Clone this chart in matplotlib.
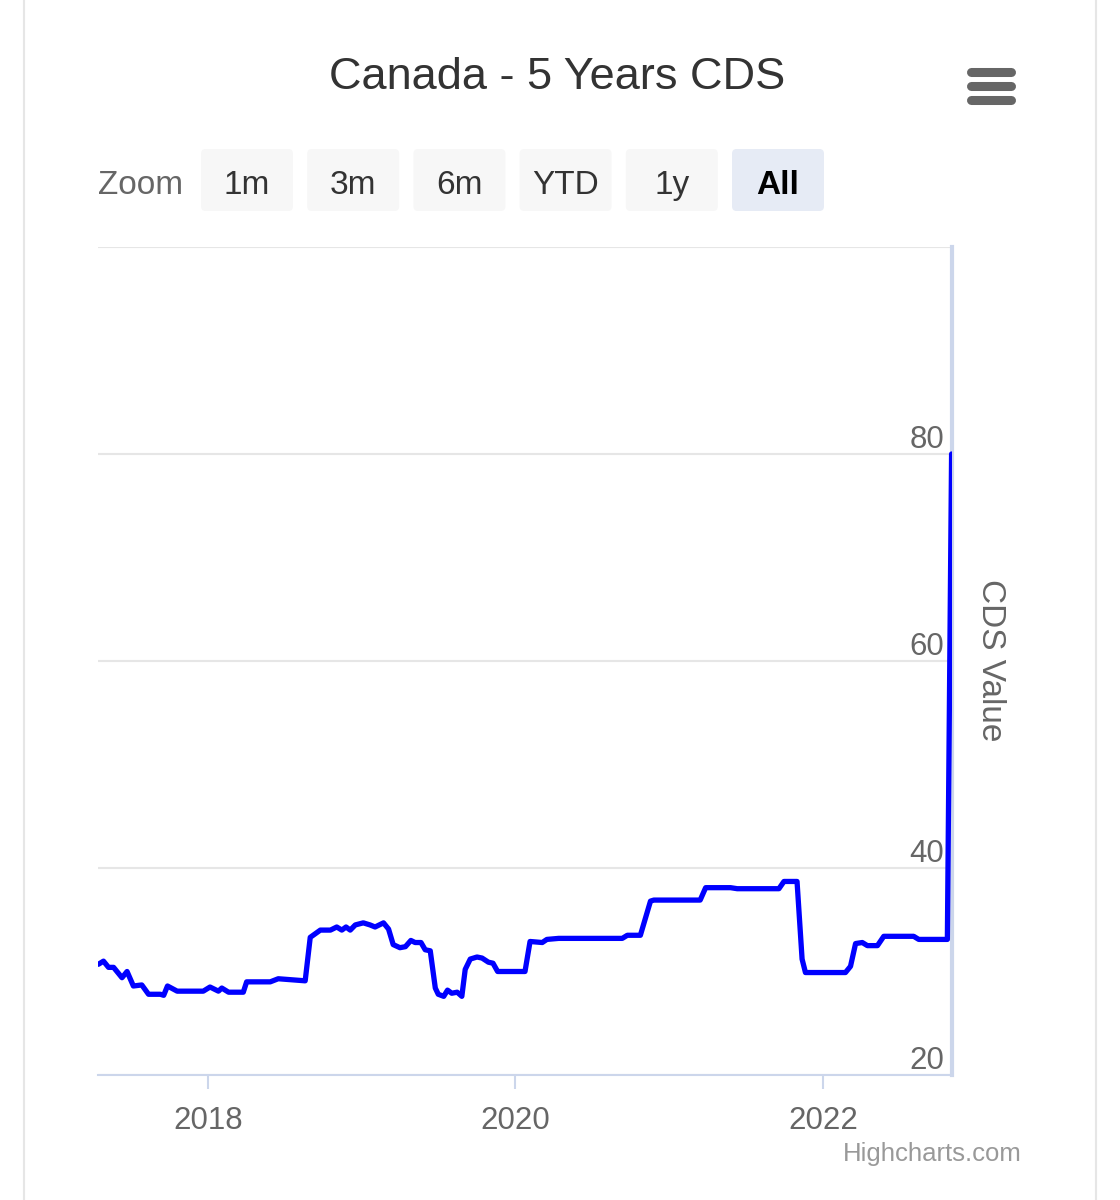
import pandas as pd
import matplotlib.pyplot as plt
import matplotlib.dates as mdates
from matplotlib.lines import Line2D
from matplotlib.patches import FancyBboxPatch
from matplotlib import transforms

plt.rcParams['font.family'] = ['Liberation Sans', 'DejaVu Sans']

# data
dates = [
    "2017-04-16", "2017-04-28", "2017-05-10", "2017-05-22", "2017-06-11", "2017-06-23",
    "2017-07-08", "2017-07-28", "2017-08-13", "2017-09-10", "2017-09-18", "2017-09-27",
    "2017-10-20", "2017-12-21", "2018-01-06", "2018-01-26", "2018-02-03", "2018-02-19",
    "2018-03-26", "2018-04-03", "2018-05-29", "2018-06-17", "2018-08-20", "2018-09-01",
    "2018-09-25", "2018-10-19", "2018-11-03", "2018-11-15", "2018-11-25", "2018-12-05",
    "2018-12-17", "2019-01-05", "2019-01-21", "2019-02-02", "2019-02-22", "2019-03-06",
    "2019-03-17", "2019-04-02", "2019-04-15", "2019-04-28", "2019-05-08", "2019-05-22",
    "2019-06-01", "2019-06-13", "2019-06-25", "2019-07-02", "2019-07-15", "2019-07-24",
    "2019-08-03", "2019-08-16", "2019-08-27", "2019-09-04", "2019-09-16", "2019-10-02",
    "2019-10-14", "2019-10-29", "2019-11-09", "2019-11-20", "2020-01-24", "2020-02-05",
    "2020-03-05", "2020-03-16", "2020-04-13", "2020-09-11", "2020-09-23", "2020-10-24",
    "2020-11-17", "2020-11-25", "2021-03-15", "2021-03-28", "2021-05-26", "2021-06-11",
    "2021-09-18", "2021-09-30", "2021-10-31", "2021-11-12", "2021-11-20", "2022-02-23",
    "2022-03-07", "2022-03-19", "2022-04-04", "2022-04-16", "2022-05-10", "2022-05-25",
    "2022-08-04", "2022-08-16", "2022-10-23", "2022-11-02",
]
cds = [
    30.7, 31.0, 30.4, 30.4, 29.4, 30.0,
    28.6, 28.7, 27.8, 27.8, 27.7, 28.6,
    28.1, 28.1, 28.5, 28.1, 28.4, 28.0,
    28.0, 29.0, 29.0, 29.3, 29.1, 33.3,
    34.0, 34.0, 34.3, 34.0, 34.3, 34.0,
    34.5, 34.7, 34.5, 34.3, 34.7, 34.1,
    32.6, 32.3, 32.4, 33.0, 32.8, 32.8,
    32.1, 32.0, 28.4, 27.8, 27.6, 28.2,
    27.9, 28.0, 27.6, 30.2, 31.2, 31.4,
    31.3, 30.9, 30.8, 30.0, 30.0, 32.9,
    32.8, 33.1, 33.2, 33.2, 33.5, 33.5,
    36.8, 36.9, 36.9, 38.1, 38.1, 38.0,
    38.0, 38.7, 38.7, 31.2, 29.9, 29.9,
    30.5, 32.7, 32.8, 32.5, 32.5, 33.4,
    33.4, 33.1, 33.1, 80.0,
]
y_ticks = [20, 40, 60, 80]
x_ticks = ["2018-01-01", "2020-01-01", "2022-01-01"]
buttons = ["1m", "3m", "6m", "YTD", "1y", "All"]

W, H = 1120, 1200
fig = plt.figure(figsize=(W / 100, H / 100), dpi=100)

def fx(px):
    return px / W

def fy(py):
    return 1 - py / H

axis_col = "#ccd6eb"
grid_col = "#e6e6e6"
label_col = "#666666"

ax = fig.add_axes([fx(98), fy(1075), fx(952) - fx(98), fy(247) - fy(1075)])
x = pd.to_datetime(dates)
ax.plot(x, cds, color="#0000ff", lw=3.8, solid_joinstyle="round",
        solid_capstyle="round", zorder=3)

ax.set_xlim(pd.Timestamp("2017-04-15"), pd.Timestamp("2022-11-03"))
ax.set_ylim(20, 100)

for s in ["top", "left"]:
    ax.spines[s].set_visible(False)
ax.spines["bottom"].set_color(axis_col)
ax.spines["bottom"].set_linewidth(1.5)
ax.spines["right"].set_color(axis_col)
ax.spines["right"].set_linewidth(3)

ax.set_yticks([20, 40, 60, 80, 100])
ax.yaxis.grid(True, color=grid_col, lw=1.5)
ax.tick_params(axis="y", length=0, labelleft=False, labelright=False)

ax.set_xticks(pd.to_datetime(x_ticks))
ax.xaxis.set_major_formatter(mdates.DateFormatter("%Y"))
ax.tick_params(axis="x", direction="out", length=10, width=1.5, color=axis_col,
               labelsize=22.5, labelcolor=label_col, pad=12)

# y labels sit inside the plot, right aligned above each gridline
off = transforms.offset_copy(ax.get_yaxis_transform(), fig=fig, x=-8, y=6, units="dots")
for v in y_ticks:
    ax.text(1, v, str(v), transform=off, ha="right", va="baseline",
            fontsize=22.5, color=label_col)

fig.text(fx(991), fy(660), "CDS Value", rotation=270, ha="center", va="center",
         fontsize=24, color=label_col)

fig.text(fx(557), fy(73), "Canada - 5 Years CDS", ha="center", va="center_baseline",
         fontsize=32.5, color="#333333")

# menu icon
for yy in [72, 86, 100]:
    fig.add_artist(Line2D([fx(971), fx(1011)], [fy(yy), fy(yy)], color="#666666",
                          lw=6.5, solid_capstyle="round"))

# range selector
fig.text(fx(98), fy(182), "Zoom", ha="left", va="center_baseline", fontsize=24,
         color=label_col)
for i, b in enumerate(buttons):
    left = 201 + i * 106.2
    sel = b == "All"
    fig.add_artist(FancyBboxPatch((fx(left), fy(211)), fx(92), fy(149) - fy(211),
                                  boxstyle="round,pad=0,rounding_size=0.004",
                                  facecolor="#e6ebf5" if sel else "#f7f7f7",
                                  edgecolor="none", transform=fig.transFigure))
    fig.text(fx(left + 46), fy(182), b, ha="center", va="center_baseline", fontsize=24,
             color="#000000" if sel else "#333333",
             fontweight="bold" if sel else "normal")

fig.text(fx(1022), fy(1152), "Highcharts.com", ha="right", va="center_baseline",
         fontsize=18.5, color="#999999")

# card borders
for xx in [24, 1096]:
    fig.add_artist(Line2D([fx(xx), fx(xx)], [0, 1], color="#e6e6e6", lw=1.5))

fig.savefig("out.png", dpi=100)
